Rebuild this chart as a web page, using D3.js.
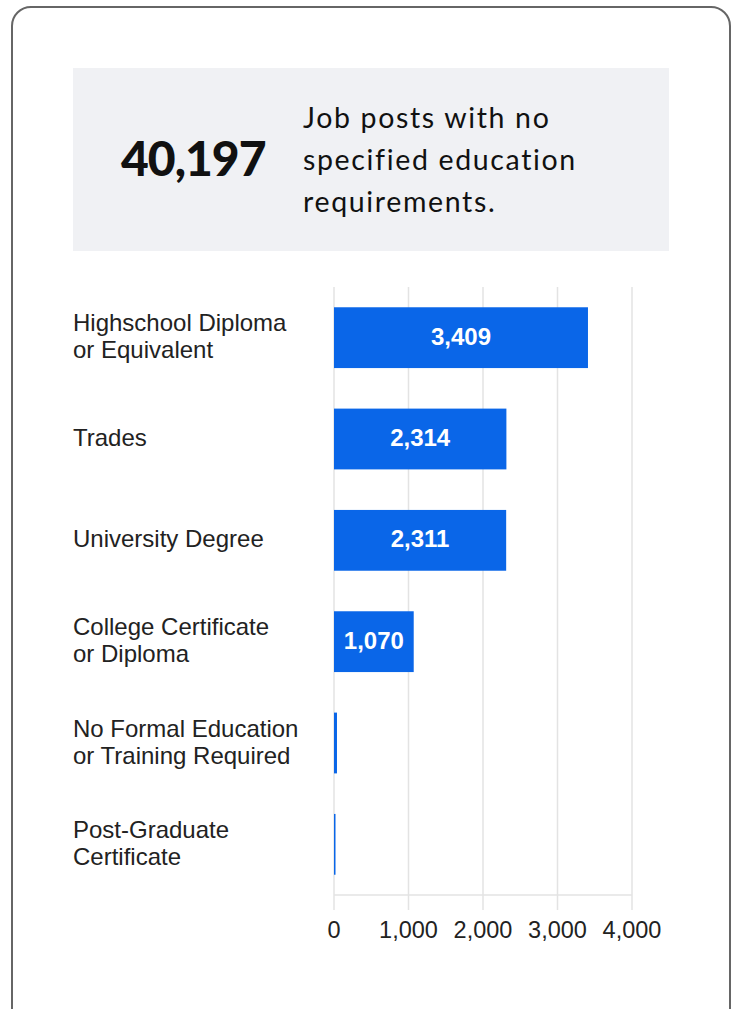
<!DOCTYPE html>
<html>
<head>
<meta charset="utf-8">
<script src="https://cdn.jsdelivr.net/npm/d3@7"></script>
<style>
  body { margin: 0; background: #fff; }
  svg { display: block; }
</style>
</head>
<body>
<div id="chart"></div>
<script>
// Data
var categories = [
  ["Highschool Diploma", "or Equivalent"],
  ["Trades"],
  ["University Degree"],
  ["College Certificate", "or Diploma"],
  ["No Formal Education", "or Training Required"],
  ["Post-Graduate", "Certificate"]
];
var values = [3409, 2314, 2311, 1070, 40, 20];
var xTicks = [0, 1000, 2000, 3000, 4000];
var bigNumber = "40,197";
var headline = ["Job posts with no", "specified education", "requirements."];

var W = 736, H = 1009;
var svg = d3.select("#chart").append("svg")
    .attr("width", W)
    .attr("height", H);

// card outline
svg.append("rect")
    .attr("x", 12).attr("y", 7)
    .attr("width", 718).attr("height", 1020)
    .attr("rx", 19)
    .attr("fill", "#fff")
    .attr("stroke", "#666")
    .attr("stroke-width", 2);

// header box
svg.append("rect")
    .attr("x", 73).attr("y", 68)
    .attr("width", 596).attr("height", 183)
    .attr("fill", "#f0f1f4");

svg.append("text")
    .attr("x", 121).attr("y", 176)
    .attr("font-family", "Lato, sans-serif")
    .attr("font-weight", 900)
    .attr("font-size", 48)
    .attr("letter-spacing", -1)
    .attr("fill", "#111")
    .text(bigNumber);

svg.append("text")
    .attr("font-family", "Lato, sans-serif")
    .attr("font-size", 28.5)
    .attr("letter-spacing", 1.65)
    .attr("fill", "#111")
    .selectAll("tspan")
    .data(headline)
    .enter().append("tspan")
    .attr("x", 303)
    .attr("y", (d, i) => 128 + i * 42)
    .text(d => d);

// bar chart
var plot = { left: 334, right: 632, top: 287, bottom: 895 };
var labelFont = "Liberation Sans, Arial, sans-serif";

var x = d3.scaleLinear()
    .domain([0, 4000])
    .range([plot.left, plot.right]);

var y = d3.scaleBand()
    .domain(d3.range(categories.length))
    .range([plot.top, plot.bottom])
    .paddingInner(0.4)
    .paddingOuter(0.2);

// gridlines
svg.append("g")
    .selectAll("line")
    .data(xTicks)
    .enter().append("line")
    .attr("x1", d => x(d)).attr("x2", d => x(d))
    .attr("y1", plot.top).attr("y2", plot.bottom + 15)
    .attr("stroke", "#e3e3e3")
    .attr("stroke-width", 1.5);

// axis line
svg.append("line")
    .attr("x1", plot.left).attr("x2", plot.right)
    .attr("y1", plot.bottom).attr("y2", plot.bottom)
    .attr("stroke", "#e3e3e3")
    .attr("stroke-width", 1.5);

// bars
svg.append("g")
    .selectAll("rect")
    .data(values)
    .enter().append("rect")
    .attr("x", x(0))
    .attr("y", (d, i) => y(i))
    .attr("width", d => Math.max(1.5, x(d) - x(0)))
    .attr("height", y.bandwidth())
    .attr("fill", "#0a66e8");

// value labels (only where they fit)
svg.append("g")
    .selectAll("text")
    .data(values.filter(v => v > 500))
    .enter().append("text")
    .attr("x", d => (x(0) + x(d)) / 2)
    .attr("y", (d, i) => y(i) + y.bandwidth() / 2 + 7)
    .attr("text-anchor", "middle")
    .attr("font-family", labelFont)
    .attr("font-weight", "bold")
    .attr("font-size", 24)
    .attr("fill", "#fff")
    .text(d => d3.format(",")(d));

// category labels
var labels = svg.append("g")
    .selectAll("text")
    .data(categories)
    .enter().append("text")
    .attr("font-family", labelFont)
    .attr("font-size", 24)
    .attr("fill", "#222");
labels.each(function(lines, i) {
    var cy = y(i) + y.bandwidth() / 2;
    var start = cy + 7 - (lines.length - 1) * 13.5;
    d3.select(this).selectAll("tspan")
        .data(lines)
        .enter().append("tspan")
        .attr("x", 73)
        .attr("y", (d, j) => start + j * 27)
        .text(d => d);
});

// tick labels
svg.append("g")
    .selectAll("text")
    .data(xTicks)
    .enter().append("text")
    .attr("x", d => x(d))
    .attr("y", 938)
    .attr("text-anchor", "middle")
    .attr("font-family", labelFont)
    .attr("font-size", 23.5)
    .attr("fill", "#222")
    .text(d => d3.format(",")(d));
</script>
</body>
</html>
